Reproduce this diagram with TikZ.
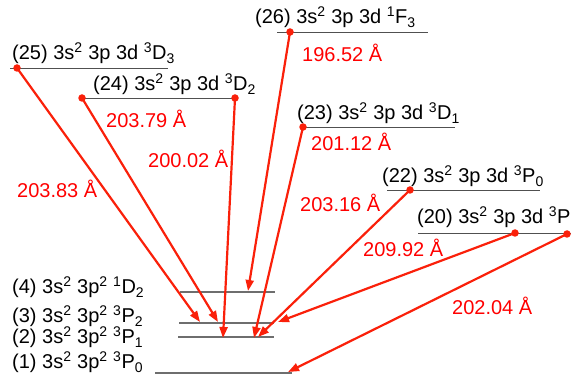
\documentclass[tikz,border=0pt]{standalone}
\usepackage{fontspec}
\setmainfont{Liberation Sans}
\usetikzlibrary{arrows.meta}
\definecolor{transred}{RGB}{250,32,10}
\definecolor{lvlgray}{RGB}{80,80,80}
\definecolor{lowgray}{RGB}{110,110,110}
\newcommand{\up}[1]{\textsuperscript{#1}}
\newcommand{\dn}[1]{\textsubscript{#1}}
\begin{document}
\begin{tikzpicture}[x=1pt,y=-1pt,
  font=\fontsize{20}{24}\selectfont,
  uplevel/.style={draw=lvlgray,line width=0.9pt},
  lowlevel/.style={draw=lowgray,line width=1.2pt},
  term/.style={anchor=base west,inner sep=0pt},
  wavelen/.style={anchor=base west,inner sep=0pt,text=red},
  transition/.style={draw=transred,line width=2.2pt,
    -{Triangle[length=11pt,width=8pt]}},
  startdot/.style={circle,fill=transred,inner sep=0pt,minimum size=7.5pt}]
\useasboundingbox (0,0) rectangle (571,382);

% upper levels (3s2 3p 3d)
\draw[uplevel] (277,32) -- (428,32);
\draw[uplevel] (10,68) -- (168,68);
\draw[uplevel] (80,98) -- (235,98);
\draw[uplevel] (300,127) -- (455,127);
\draw[uplevel] (387,190) -- (540,190);
\draw[uplevel] (418,233) -- (575,233);

\node[term] (t26) at (255,24) {(26) 3s\up{2} 3p 3d \up{1}F\dn{3}};
\node[term] (t25) at (12,60) {(25) 3s\up{2} 3p 3d \up{3}D\dn{3}};
\node[term] (t24) at (93,91) {(24) 3s\up{2} 3p 3d \up{3}D\dn{2}};
\node[term] (t23) at (297,120) {(23) 3s\up{2} 3p 3d \up{3}D\dn{1}};
\node[term] (t22) at (382,183) {(22) 3s\up{2} 3p 3d \up{3}P\dn{0}};
\node[term] (t20) at (417,224) {(20) 3s\up{2} 3p 3d \up{3}P\dn{1}};

% lower levels (3s2 3p2)
\draw[lowlevel] (180,292) -- (275,292);
\draw[lowlevel] (179,323) -- (274,323);
\draw[lowlevel] (178,337) -- (274,337);
\draw[lowlevel] (155,373) -- (292,373);

\node[term] (t4) at (12,294) {(4) 3s\up{2} 3p\up{2} \up{1}D\dn{2}};
\node[term] (t3) at (12,323) {(3) 3s\up{2} 3p\up{2} \up{3}P\dn{2}};
\node[term] (t2) at (12,344) {(2) 3s\up{2} 3p\up{2} \up{3}P\dn{1}};
\node[term] (t1) at (12,369) {(1) 3s\up{2} 3p\up{2} \up{3}P\dn{0}};

% transition start points
\node[startdot] (s26) at (290,32) {};
\node[startdot] (s25) at (17,68) {};
\node[startdot] (s24a) at (82,98) {};
\node[startdot] (s24b) at (235,98) {};
\node[startdot] (s23) at (303,127) {};
\node[startdot] (s22) at (410,190) {};
\node[startdot] (s20a) at (515,233) {};
\node[startdot] (s20b) at (567,234) {};

% transition end points on the lower levels
\coordinate (e26) at (248,291);
\coordinate (e25) at (200,322);
\coordinate (e24a) at (218,322);
\coordinate (e24b) at (223,338);
\coordinate (e23) at (254,338);
\coordinate (e22) at (258,337);
\coordinate (e20a) at (278,322);
\coordinate (e20b) at (288,372);

\draw[transition] (s26.center) -- (e26);
\draw[transition] (s25.center) -- (e25);
\draw[transition] (s24a.center) -- (e24a);
\draw[transition] (s24b.center) -- (e24b);
\draw[transition] (s23.center) -- (e23);
\draw[transition] (s22.center) -- (e22);
\draw[transition] (s20a.center) -- (e20a);
\draw[transition] (s20b.center) -- (e20b);

% wavelengths
\node[wavelen] (w25) at (17,198) {203.83 Å};
\node[wavelen] (w24a) at (106,128) {203.79 Å};
\node[wavelen] (w24b) at (148,168) {200.02 Å};
\node[wavelen] (w26) at (302,62) {196.52 Å};
\node[wavelen] (w23) at (311,151) {201.12 Å};
\node[wavelen] (w22) at (300,212) {203.16 Å};
\node[wavelen] (w20a) at (363,257) {209.92 Å};
\node[wavelen] (w20b) at (452,315) {202.04 Å};
\end{tikzpicture}
\end{document}
